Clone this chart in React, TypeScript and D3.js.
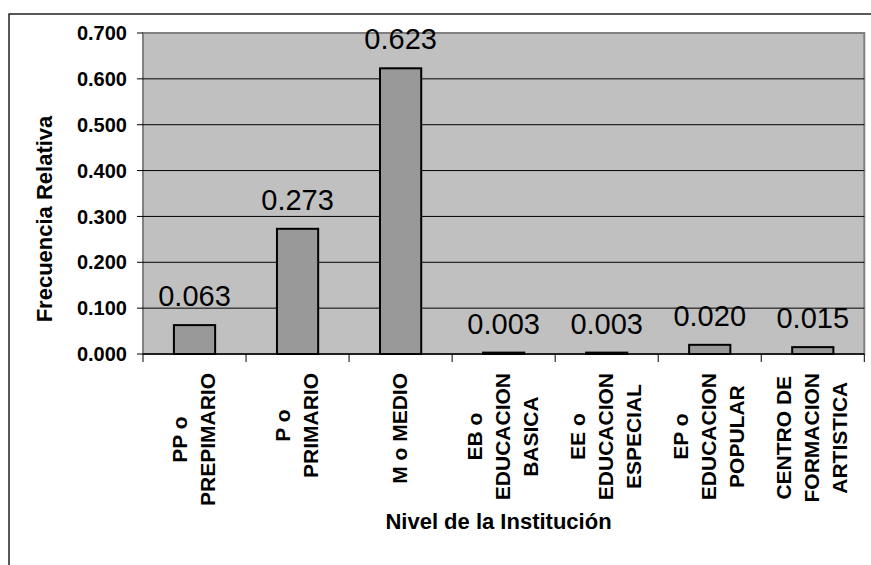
import React from "react";
import * as d3 from "d3";

const categoryLines: string[][] = [
  ["PP o", "PREPIMARIO"],
  ["P o", "PRIMARIO"],
  ["M o MEDIO"],
  ["EB o", "EDUCACION", "BASICA"],
  ["EE o", "EDUCACION", "ESPECIAL"],
  ["EP o", "EDUCACION", "POPULAR"],
  ["CENTRO DE", "FORMACION", "ARTISTICA"],
];
const values: number[] = [0.063, 0.273, 0.623, 0.003, 0.003, 0.02, 0.015];
const yTicks: number[] = [0, 0.1, 0.2, 0.3, 0.4, 0.5, 0.6, 0.7];
const yTitle = "Frecuencia Relativa";
const xTitle = "Nivel de la Institución";

const FONT = "'Liberation Sans', Arial, sans-serif";

let ctx: CanvasRenderingContext2D | null = null;
function measure(text: string, font: string): number {
  if (!ctx) ctx = document.createElement("canvas").getContext("2d");
  if (!ctx) return text.length * 12;
  ctx.font = font;
  return ctx.measureText(text).width;
}

export default function App() {
  const W = 871;
  const H = 565;
  const plotL = 143;
  const plotR = 864.3;
  const plotT = 33;
  const plotB = 354;

  const x = d3
    .scaleBand<number>()
    .domain(values.map((_, i) => i))
    .range([plotL, plotR])
    .paddingInner(0)
    .paddingOuter(0);
  const y = d3.scaleLinear().domain([0, 0.7]).range([plotB, plotT]);
  const fmt = d3.format(".3f");
  const barW = x.bandwidth() * 0.4;

  const xLabelSize = 21;
  const xLabelFont = `bold ${xLabelSize}px ${FONT}`;
  const lineGap = 28;
  const cap = 0.716 * xLabelSize;
  const labelTop = 373;

  return (
    <svg
      width={W}
      height={H}
      style={{ position: "absolute", left: 0, top: 0, background: "#fff" }}
      fontFamily={FONT}
    >
      {/* outer frame */}
      <rect x={9} y={14} width={W + 20} height={H + 20} fill="#fff" stroke="#222" strokeWidth={1.5} />

      {/* plot area */}
      <rect x={plotL} y={plotT} width={plotR - plotL} height={plotB - plotT} fill="#C0C0C0" stroke="#808080" strokeWidth={2} />

      {/* gridlines */}
      {yTicks
        .filter((t) => t > 0 && t < 0.7)
        .map((t) => (
          <line key={"g" + t} x1={plotL} x2={plotR} y1={y(t)} y2={y(t)} stroke="#000" strokeWidth={1} />
        ))}

      {/* bars */}
      {values.map((v, i) => {
        const cx = (x(i) as number) + x.bandwidth() / 2;
        return (
          <rect
            key={"b" + i}
            x={cx - barW / 2}
            y={y(v)}
            width={barW}
            height={plotB - y(v)}
            fill="#999999"
            stroke="#000"
            strokeWidth={2}
          />
        );
      })}

      {/* y axis ticks */}
      {yTicks.map((t) => (
        <g key={"yt" + t}>
          <line x1={plotL - 6} x2={plotL} y1={y(t)} y2={y(t)} stroke="#000" strokeWidth={1} />
          <text
            x={127}
            y={y(t)}
            dy="0.36em"
            textAnchor="end"
            fontWeight="bold"
            fontSize={20}
            fill="#000"
          >
            {fmt(t)}
          </text>
        </g>
      ))}

      {/* x axis */}
      <line x1={plotL} x2={plotR} y1={plotB} y2={plotB} stroke="#000" strokeWidth={1.5} />
      {d3.range(values.length + 1).map((i) => {
        const xx = i < values.length ? (x(i) as number) : plotR;
        return <line key={"xt" + i} x1={xx} x2={xx} y1={plotB} y2={plotB + 8} stroke="#000" strokeWidth={1} />;
      })}

      {/* value labels */}
      {values.map((v, i) => {
        const cx = (x(i) as number) + x.bandwidth() / 2;
        return (
          <text key={"v" + i} x={cx} y={y(v) - 19} textAnchor="middle" fontSize={29} fill="#000">
            {fmt(v)}
          </text>
        );
      })}

      {/* category labels */}
      {categoryLines.map((lines, i) => {
        const cx = (x(i) as number) + x.bandwidth() / 2 - 1.5;
        const maxLen = d3.max(lines, (l) => measure(l, xLabelFont)) || 0;
        const cy = labelTop + maxLen / 2;
        const n = lines.length;
        return (
          <g key={"c" + i}>
            {lines.map((l, j) => {
              const lc = cx + (j - (n - 1) / 2) * lineGap;
              const bx = lc + cap / 2;
              return (
                <text
                  key={j}
                  transform={`translate(${bx},${cy}) rotate(-90)`}
                  textAnchor="middle"
                  fontWeight="bold"
                  fontSize={xLabelSize}
                  fill="#000"
                >
                  {l}
                </text>
              );
            })}
          </g>
        );
      })}

      {/* axis titles */}
      <text
        transform={`translate(52,219) rotate(-90)`}
        textAnchor="middle"
        fontWeight="bold"
        fontSize={22}
        fill="#000"
      >
        {yTitle}
      </text>
      <text x={498.5} y={529} textAnchor="middle" fontWeight="bold" fontSize={22} fill="#000">
        {xTitle}
      </text>
    </svg>
  );
}
